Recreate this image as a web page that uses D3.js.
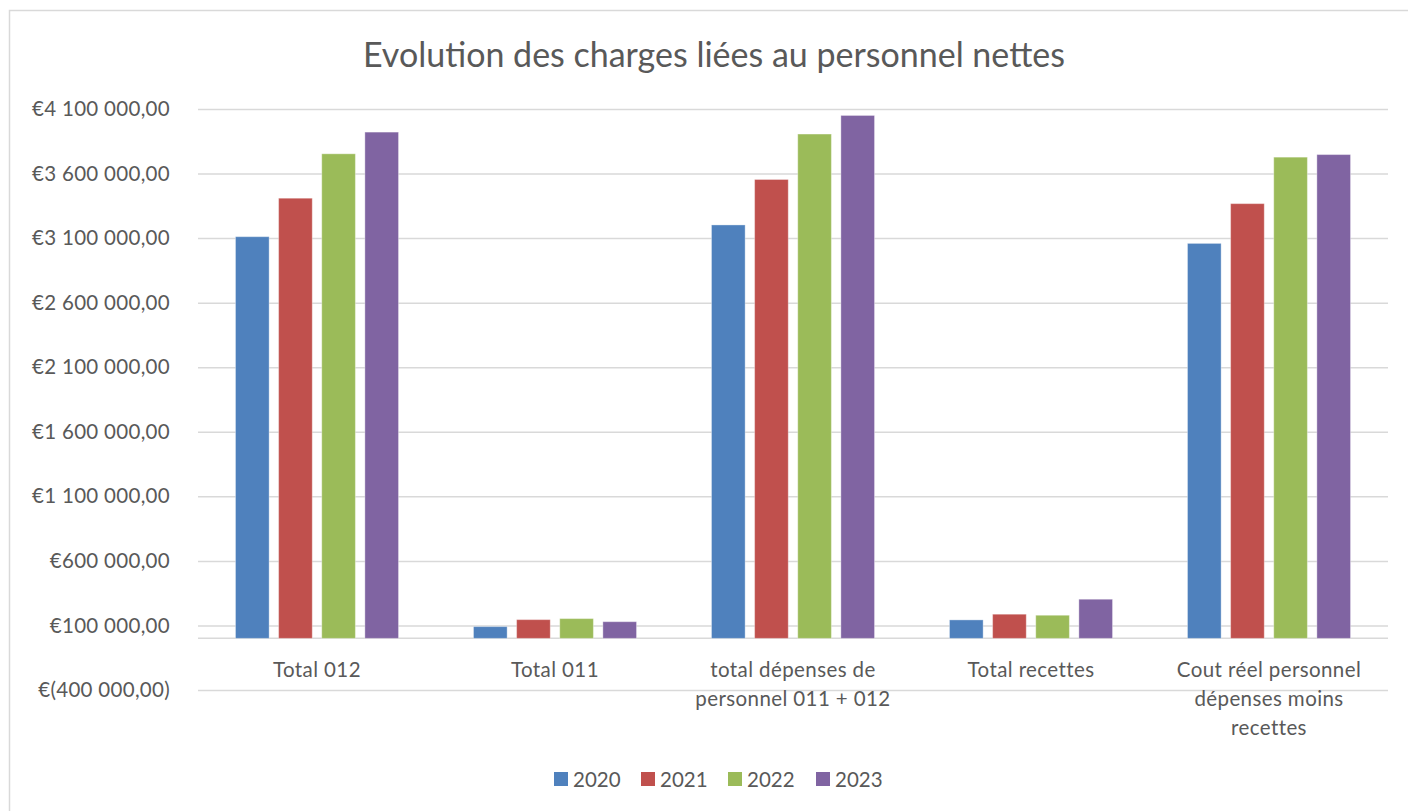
<!DOCTYPE html>
<html>
<head>
<meta charset="utf-8">
<script src="https://cdn.jsdelivr.net/npm/d3@7"></script>
<style>
  html, body { margin: 0; padding: 0; background: #fff; }
  svg { display: block; }
</style>
</head>
<body>
<svg id="chart" width="1408" height="811"></svg>
<script>
// Personnel cost evolution, by category and year
const categories = [
  ["Total 012"],
  ["Total 011"],
  ["total dépenses de", "personnel 011 + 012"],
  ["Total recettes"],
  ["Cout réel personnel", "dépenses moins", "recettes"]
];
const years = ["2020", "2021", "2022", "2023"];
const colors = ["#4F81BD", "#C0504D", "#9BBB59", "#8064A2"];

const values2020 = [3111000, 91000, 3202000, 143000, 3059000];
const values2021 = [3409000, 145000, 3554000, 187000, 3367000];
const values2022 = [3753000, 153000, 3906000, 179000, 3727000];
const values2023 = [3921000, 129000, 4050000, 303000, 3747000];
const series = [values2020, values2021, values2022, values2023];

const yTicks = [-400000, 100000, 600000, 1100000, 1600000, 2100000, 2600000, 3100000, 3600000, 4100000];

const svg = d3.select("#chart");
const font = "Lato, 'Open Sans', sans-serif";
const textColor = "#595959";
const gridColor = "#d9d9d9";
const labelSize = 20.5;

// Outer chart frame
svg.append("rect")
  .attr("x", 9.5).attr("y", 10.5)
  .attr("width", 1420).attr("height", 820)
  .attr("fill", "#fff").attr("stroke", gridColor).attr("stroke-width", 1.5);

const plot = { left: 198, right: 1388, top: 109, bottom: 690 };

const y = d3.scaleLinear()
  .domain([-400000, 4100000])
  .range([plot.bottom, plot.top]);

const x0 = d3.scaleBand()
  .domain(d3.range(categories.length))
  .range([plot.left, plot.right])
  .paddingInner(0.315)
  .paddingOuter(0.1575);

const x1 = d3.scaleBand()
  .domain(d3.range(years.length))
  .range([0, x0.bandwidth()])
  .paddingInner(0.22);

// Currency format: €4 100 000,00 / €(400 000,00)
function euro(v) {
  const s = d3.format(",.2f")(Math.abs(v)).replace(/,/g, " ").replace(".", ",");
  return v < 0 ? "€(" + s + ")" : "€" + s;
}

// Title
svg.append("text")
  .attr("x", 714).attr("y", 67)
  .attr("text-anchor", "middle")
  .attr("font-family", font).attr("font-size", 34)
  .attr("fill", textColor)
  .text("Evolution des charges liées au personnel nettes");

// Gridlines and value axis labels
const yAxis = d3.axisLeft(y).tickValues(yTicks).tickFormat(euro)
  .tickSize(-(plot.right - plot.left)).tickPadding(28);
const gy = svg.append("g")
  .attr("transform", `translate(${plot.left},0)`)
  .call(yAxis);
gy.select(".domain").remove();
gy.selectAll(".tick line").attr("stroke", gridColor).attr("stroke-width", 1.5);
gy.selectAll(".tick text")
  .attr("font-family", font).attr("font-size", labelSize)
  .attr("letter-spacing", 0.3)
  .attr("fill", textColor);

// Category axis line at zero
svg.append("line")
  .attr("x1", plot.left).attr("x2", plot.right)
  .attr("y1", y(0)).attr("y2", y(0))
  .attr("stroke", gridColor).attr("stroke-width", 1.5);

// Bars
const groups = svg.append("g").selectAll("g")
  .data(categories.map((c, i) => i))
  .join("g")
  .attr("transform", i => `translate(${x0(i)},0)`);

groups.selectAll("rect")
  .data(i => series.map((s, k) => ({ k, v: s[i] })))
  .join("rect")
  .attr("x", d => x1(d.k))
  .attr("width", x1.bandwidth())
  .attr("y", d => y(Math.max(0, d.v)))
  .attr("height", d => Math.abs(y(d.v) - y(0)))
  .attr("fill", d => colors[d.k])
  .attr("stroke", "rgba(255,255,255,0.35)")
  .attr("stroke-width", 1);

// Category labels
const catLabels = svg.append("g").selectAll("text")
  .data(categories)
  .join("text")
  .attr("x", (d, i) => x0(i) + x0.bandwidth() / 2)
  .attr("y", 677)
  .attr("text-anchor", "middle")
  .attr("font-family", font).attr("font-size", labelSize)
  .attr("letter-spacing", 0.4)
  .attr("fill", textColor);
catLabels.selectAll("tspan")
  .data(d => d)
  .join("tspan")
  .attr("x", function () { return this.parentNode.getAttribute("x"); })
  .attr("dy", (d, j) => j === 0 ? 0 : 29)
  .text(d => d);

// Legend
const legendX = [554, 641, 728, 816];
const legend = svg.append("g").selectAll("g")
  .data(years)
  .join("g")
  .attr("transform", (d, i) => `translate(${legendX[i]},779)`);
legend.append("rect")
  .attr("x", 0).attr("y", -7).attr("width", 14).attr("height", 14)
  .attr("fill", (d, i) => colors[i]);
legend.append("text")
  .attr("x", 19).attr("y", 7.5)
  .attr("font-family", font).attr("font-size", labelSize)
  .attr("fill", textColor)
  .text(d => d);
</script>
</body>
</html>
